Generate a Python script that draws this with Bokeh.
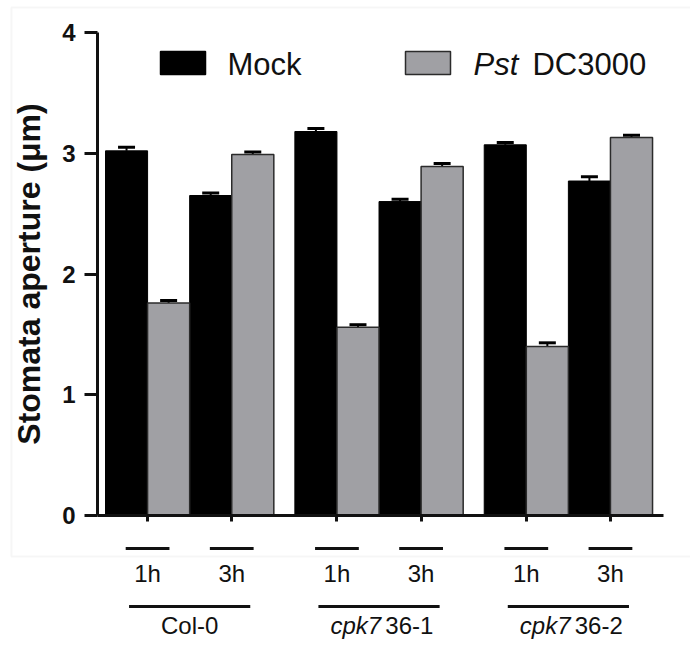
from bokeh.plotting import figure
from bokeh.models import (Range1d, LinearAxis, FixedTicker, Whisker, TeeHead,
                          ColumnDataSource, BoxAnnotation, CustomJSTickFormatter)
from bokeh.core.properties import value
from bokeh.embed import file_html
from bokeh.resources import INLINE

# ---- data ----
groups_italic = ["", "cpk7", "cpk7"]
groups_plain = ["Col-0", "36-1", "36-2"]
times = ["1h", "3h", "1h", "3h", "1h", "3h"]
mock = [3.02, 2.65, 3.18, 2.60, 3.07, 2.77]
mock_err = [0.03, 0.02, 0.025, 0.02, 0.02, 0.035]
pst = [1.76, 2.99, 1.56, 2.89, 1.40, 3.13]
pst_err = [0.02, 0.02, 0.02, 0.025, 0.03, 0.02]
yticks = [0, 1, 2, 3, 4]
series_names = ["Mock", "Pst", "DC3000"]

FONT = "Liberation Sans"
GREY = "#a0a0a4"
INK = "#111111"

# ---- positions (in bar units) ----
GROUP_STEP = 4.5
pair_pos = [g * GROUP_STEP + 2 * t + 1 for g in range(3) for t in range(2)]
mock_x = [x - 0.5 for x in pair_pos]
pst_x = [x + 0.5 for x in pair_pos]
group_center = [g * GROUP_STEP + 2 for g in range(3)]

W, H = 690, 639
PXU_X, PXU_Y = 42.08, 120.75
x0 = -105 / PXU_X
y1 = 515 / PXU_Y
p = figure(width=W, height=H, output_backend="svg", toolbar_location=None,
           x_range=Range1d(x0, x0 + W / PXU_X), y_range=Range1d(y1 - H / PXU_Y, y1),
           x_axis_type=None, y_axis_type=None, min_border=0)
p.outline_line_color = None
p.xgrid.visible = False
p.ygrid.visible = False
p.background_fill_color = "white"
p.border_fill_color = "white"

# light grey frame box
p.add_layout(BoxAnnotation(left=-2.234, right=20, top=4.207, bottom=-0.3395,
                           fill_color=None, line_color="#e2e2e2", line_width=2))

# bars
p.vbar(x=mock_x, top=mock, bottom=0, width=1, fill_color="black", line_color="black", line_width=1)
p.vbar(x=pst_x, top=pst, bottom=0, width=1, fill_color=GREY, line_color="#2b2b2b", line_width=1.5)

# error bars (upper half)
err_src = ColumnDataSource(dict(
    x=mock_x + pst_x,
    lower=mock + pst,
    upper=[v + e for v, e in zip(mock, mock_err)] + [v + e for v, e in zip(pst, pst_err)],
))
p.add_layout(Whisker(source=err_src, base="x", lower="lower", upper="upper",
                     line_color="black", line_width=2,
                     upper_head=TeeHead(size=17, line_width=3, line_color="black"),
                     lower_head=None))

# axes
yax = LinearAxis(fixed_location=-0.19, bounds=(0, 4), ticker=FixedTicker(ticks=yticks),
                 axis_label="Stomata aperture (μm)")
yax.axis_line_width = 3
yax.axis_line_color = INK
yax.major_tick_line_width = 3
yax.major_tick_line_color = INK
yax.major_tick_out = 13
yax.major_tick_in = 0
yax.minor_tick_out = 0
yax.minor_tick_in = 0
yax.major_label_standoff = 9
yax.major_label_text_font = FONT
yax.major_label_text_font_style = "bold"
yax.major_label_text_font_size = "24px"
yax.major_label_text_color = INK
yax.axis_label_text_font = FONT
yax.axis_label_text_font_style = "bold"
yax.axis_label_text_font_size = "32px"
yax.axis_label_text_color = INK
yax.axis_label_standoff = 12
p.add_layout(yax, "left")

xax = LinearAxis(fixed_location=0, bounds=(-0.19, 13.26), ticker=FixedTicker(ticks=pair_pos),
                 formatter=CustomJSTickFormatter(args=dict(labels=times), code="return labels[index];"))
xax.axis_line_width = 3
xax.axis_line_color = INK
xax.major_tick_line_width = 3
xax.major_tick_line_color = INK
xax.major_tick_out = 6
xax.major_tick_in = 0
xax.minor_tick_out = 0
xax.minor_tick_in = 0
xax.major_label_standoff = 38
xax.major_label_text_font = FONT
xax.major_label_text_font_size = "24px"
xax.major_label_text_color = INK
p.add_layout(xax, "below")

# under-lines
p.segment(x0=[x - 0.52 for x in pair_pos], x1=[x + 0.52 for x in pair_pos],
          y0=-0.273, y1=-0.273, line_color=INK, line_width=3)
p.segment(x0=[c - 1.44 for c in group_center], x1=[c + 1.44 for c in group_center],
          y0=-0.754, y1=-0.754, line_color=INK, line_width=3)

# group labels
GY = -0.911
GFS = "24px"
p.text(x=[group_center[0]], y=[GY], text=[groups_plain[0]], text_font=value(FONT),
       text_font_size=GFS, text_align="center", text_baseline="middle", text_color=INK)
p.text(x=[c + 0.05 for c in group_center[1:]], y=[GY] * 2, text=groups_italic[1:],
       text_font=value(FONT), text_font_style="italic", text_font_size=GFS,
       text_align="right", text_baseline="middle", text_color=INK)
p.text(x=[c + 0.15 for c in group_center[1:]], y=[GY] * 2, text=groups_plain[1:],
       text_font=value(FONT), text_font_size=GFS,
       text_align="left", text_baseline="middle", text_color=INK)

# legend
p.rect(x=[1.842], y=[3.747], width=45, height=23, width_units="screen", height_units="screen",
       fill_color="black", line_color="black", line_width=1.5)
p.rect(x=[7.664], y=[3.747], width=45, height=23, width_units="screen", height_units="screen",
       fill_color=GREY, line_color="#2b2b2b", line_width=1.5)
p.text(x=[2.899], y=[3.735], text=[series_names[0]], text_font=value(FONT), text_font_size="31px",
       text_align="left", text_baseline="middle", text_color=INK)
p.text(x=[8.745], y=[3.735], text=[series_names[1]], text_font=value(FONT), text_font_size="31px",
       text_font_style="italic", text_align="left", text_baseline="middle", text_color=INK)
p.text(x=[10.147], y=[3.735], text=[series_names[2]], text_font=value(FONT), text_font_size="31px",
       text_align="left", text_baseline="middle", text_color=INK)

open("out.html", "w").write(file_html(p, INLINE))
